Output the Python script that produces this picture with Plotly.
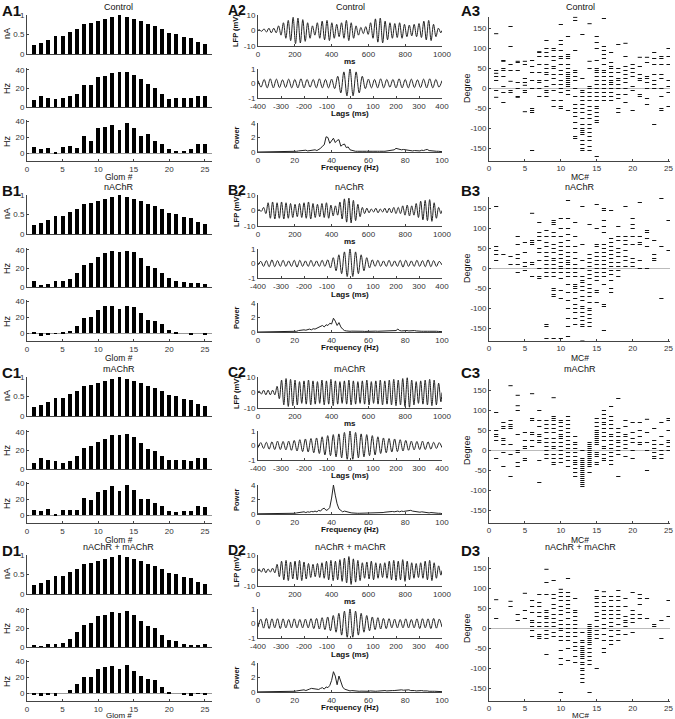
import plotly.graph_objects as go

W, H = 675, 719
FONT = "Liberation Sans, Arial, sans-serif"

# ---------------- data ----------------
conditions = ["Control", "nAChR", "mAChR", "nAChR + mAChR"]
letters = ["A", "B", "C", "D"]
glom = list(range(1, 26))

current_nA = [0.22, 0.28, 0.36, 0.45, 0.47, 0.56, 0.64, 0.76, 0.79, 0.85, 0.89, 0.94, 0.99,
              0.96, 0.91, 0.84, 0.76, 0.73, 0.64, 0.54, 0.51, 0.43, 0.40, 0.32, 0.26]

rate_control = [8, 12, 10, 9, 10, 12, 14, 24, 24, 32, 33, 37, 38, 38, 35, 30, 25, 20, 14, 9, 10, 10, 10, 12, 12]
rate_nachr = [6, 2, 3, 7, 6, 9, 15, 24, 26, 32, 37, 39, 38, 39, 38, 31, 23, 21, 15, 10, 7, 5, 4, 4, 3]
rate_machr = [7, 12, 10, 9, 7, 9, 14, 23, 25, 29, 32, 37, 37, 38, 34, 28, 22, 19, 14, 10, 10, 10, 9, 12, 12]
rate_both = [2, 1, 3, 3, 4, 9, 16, 24, 26, 33, 35, 38, 37, 39, 34, 28, 23, 21, 13, 8, 6, 3, 2, 2, 3]

sync_control = [8, 5, 6, 1, 8, 9, 6, 22, 15, 32, 33, 36, 29, 38, 32, 22, 24, 16, 12, 5, 3, 3, 5, 11, 11]
sync_nachr = [2, -4, -3, -1, 2, 3, 9, 19, 20, 29, 34, 35, 31, 35, 33, 25, 17, 16, 11, 4, 1, 0, -2, 0, -2]
sync_machr = [7, 5, 8, 1, 6, 6, 6, 22, 19, 29, 32, 37, 30, 38, 32, 20, 21, 15, 12, 5, 4, 5, 5, 11, 10]
sync_both = [-2, -4, -2, -4, 0, 4, 11, 20, 20, 31, 33, 34, 31, 36, 28, 22, 18, 17, 8, 2, 0, -3, -4, -1, -2]

# LFP: amplitude of each oscillation cycle over 0-1000 ms
lfp_control = [0.5, 1, 1.5, 1.5, 3, 5, 6.5, 8.5, 8, 7, 5, 3, 5, 6, 6.5, 5, 4, 5, 6.5, 5,
               3, 2, 2.5, 5, 7.5, 8, 6, 5, 4.5, 5, 4, 3.5, 4, 4.5, 6, 6.5, 4, 1.5]
lfp_nachr = [0.5, 2, 5, 5.5, 5, 5.5, 5, 4.5, 4, 4.5, 5, 5.5, 4.5, 4, 4.5, 5, 3.5, 3, 5.5, 7.5,
             8, 6.5, 4, 2, 1.5, 1, 1.5, 1, 1.5, 1.5, 2, 2, 3, 3.5, 3, 4.5, 6, 6.5, 7, 5, 2]
lfp_machr = [1, 1.5, 1.5, 1.5, 4, 8, 9, 8.5, 8, 7, 7.5, 8, 7.5, 7, 8, 7.5, 8.5, 7.5, 7, 7.5,
             8, 7.5, 7, 7.5, 8, 7, 7.5, 8, 7.5, 8, 8.5, 8, 9, 9.5, 8, 7, 7.5, 8, 8.5, 8, 6]
lfp_both = [1, 1.5, 1, 1.5, 4, 6, 6.5, 5.5, 6, 6.5, 5.5, 4.5, 4, 4.5, 5, 6, 6.5, 6, 7, 8,
            9, 7.5, 6.5, 5, 5.5, 6, 5, 4.5, 5, 6, 6.5, 6, 7, 6, 5, 4.5, 5, 6, 6.5, 5, 3]

# autocorrelation: envelope at each half-period lag from 0 to 400 ms
corr_control = [1.0, 0.85, 0.8, 0.65, 0.5, 0.35, 0.3, 0.3, 0.28, 0.3, 0.32, 0.3, 0.28, 0.25, 0.28, 0.3,
                0.32, 0.3, 0.28, 0.3, 0.3, 0.28, 0.25, 0.28, 0.3, 0.3, 0.32, 0.3, 0.28, 0.25, 0.2]
corr_nachr = [1.0, 0.9, 0.8, 0.7, 0.6, 0.5, 0.4, 0.3, 0.25, 0.2, 0.22, 0.2, 0.18, 0.2, 0.22, 0.2, 0.18,
              0.2, 0.22, 0.25, 0.22, 0.2, 0.18, 0.2, 0.22, 0.2, 0.2, 0.22, 0.25, 0.22, 0.2, 0.2, 0.15, 0.1]
corr_machr = [1.0, 0.95, 0.9, 0.85, 0.8, 0.78, 0.75, 0.7, 0.68, 0.65, 0.6, 0.55, 0.52, 0.5, 0.48, 0.45,
              0.45, 0.42, 0.4, 0.38, 0.35, 0.33, 0.3, 0.3, 0.28, 0.28, 0.3, 0.28, 0.25, 0.25, 0.22, 0.2, 0.2, 0.15]
corr_both = [1.0, 0.95, 0.85, 0.8, 0.7, 0.6, 0.55, 0.5, 0.45, 0.42, 0.4, 0.38, 0.35, 0.35, 0.33, 0.3,
             0.3, 0.3, 0.28, 0.3, 0.32, 0.3, 0.28, 0.3, 0.32, 0.35, 0.33, 0.3, 0.32, 0.35, 0.35, 0.32, 0.3, 0.25]

# power spectra, 0..100 Hz at 1 Hz
freq = list(range(0, 101))
power_control = ([0] * 18 + [0.02, 0.03] +
                 [0.05, 0.1, 0.15, 0.2, 0.15, 0.2, 0.25, 0.15, 0.2, 0.25] +
                 [0.2, 0.3, 0.2, 0.3, 0.5, 0.8, 1.0, 2.1, 2.0, 1.2] +
                 [1.6, 1.9, 1.3, 1.6, 1.7, 0.8, 1.0, 1.1, 0.6, 0.7] +
                 [0.3, 0.2, 0.15, 0.1, 0.1, 0.15, 0.1, 0.1, 0.15, 0.1] +
                 [0.1, 0.15, 0.1, 0.1, 0.15, 0.1, 0.1, 0.15, 0.1, 0.1] +
                 [0.15, 0.2, 0.15, 0.2, 0.3, 0.5, 0.4, 0.3, 0.3, 0.35] +
                 [0.3, 0.2, 0.25, 0.2, 0.15, 0.2, 0.15, 0.2, 0.15, 0.25] +
                 [0.2, 0.3, 0.35, 0.2, 0.15, 0.1, 0.15, 0.1, 0.1, 0.05, 0.05])
power_nachr = ([0] * 17 + [0.02, 0.05, 0.05] +
               [0.1, 0.1, 0.2, 0.25, 0.2, 0.3, 0.25, 0.3, 0.4, 0.3] +
               [0.45, 0.4, 0.5, 0.6, 0.7, 0.9, 0.7, 1.0, 0.9, 1.2] +
               [1.1, 1.9, 1.5, 0.9, 1.3, 0.7, 0.4, 0.2, 0.15, 0.1] +
               [0.1, 0.12, 0.1, 0.08, 0.1, 0.12, 0.1, 0.1, 0.08, 0.1] +
               [0.1, 0.12, 0.1, 0.1, 0.12, 0.1, 0.1, 0.12, 0.1, 0.1] +
               [0.1, 0.15, 0.1, 0.15, 0.2, 0.2, 0.4, 0.2, 0.15, 0.2] +
               [0.15, 0.2, 0.15, 0.2, 0.15, 0.2, 0.15, 0.1, 0.15, 0.1] +
               [0.1, 0.15, 0.1, 0.1, 0.12, 0.1, 0.08, 0.1, 0.08, 0.05, 0.05])
power_machr = ([0.03] * 20 +
               [0.1, 0.15, 0.2, 0.25, 0.2, 0.3, 0.2, 0.3, 0.25, 0.35] +
               [0.3, 0.4, 0.3, 0.5, 0.4, 0.7, 0.8, 0.5, 0.6, 0.9] +
               [2.2, 4.0, 2.6, 1.4, 0.7, 0.5, 0.3, 0.4, 0.3, 0.25] +
               [0.2, 0.15, 0.1, 0.15, 0.1, 0.1, 0.1, 0.1, 0.1, 0.1] +
               [0.1, 0.15, 0.1, 0.15, 0.1, 0.15, 0.2, 0.15, 0.2, 0.25] +
               [0.3, 0.25, 0.3, 0.35, 0.3, 0.35, 0.4, 0.3, 0.4, 0.35] +
               [0.4, 0.45, 0.55, 0.5, 0.4, 0.35, 0.4, 0.3, 0.25, 0.3] +
               [0.25, 0.2, 0.2, 0.15, 0.2, 0.15, 0.1, 0.1, 0.1, 0.1, 0.05])
power_both = ([0.02] * 20 +
              [0.1, 0.15, 0.2, 0.3, 0.25, 0.3, 0.2, 0.35, 0.4, 0.5] +
              [0.45, 0.5, 0.4, 0.35, 0.5, 0.6, 0.4, 0.7, 0.6, 0.9] +
              [1.6, 2.8, 2.2, 1.0, 2.2, 1.5, 0.7, 0.4, 0.3, 0.2] +
              [0.15, 0.2, 0.15, 0.1, 0.15, 0.1, 0.12, 0.1, 0.15, 0.1] +
              [0.1, 0.15, 0.1, 0.15, 0.1, 0.12, 0.15, 0.1, 0.15, 0.2] +
              [0.15, 0.2, 0.15, 0.2, 0.2, 0.25, 0.2, 0.25, 0.3, 0.25] +
              [0.3, 0.25, 0.3, 0.2, 0.25, 0.2, 0.15, 0.2, 0.15, 0.2] +
              [0.15, 0.2, 0.15, 0.1, 0.15, 0.1, 0.1, 0.1, 0.08, 0.05, 0.05])

# spike phases (degrees) per mitral cell 1..25
phase_control = [
    [137, 45, 38, 30, 20, -5, -22], [70, 68, 50, 45, 30, 5, -10, -35], [155, 105, 60, 45, 18, -5, -10],
    [68, 65, 45, 15, 0, -20, -22], [68, 60, 25, 15, 8, -5, -10, -58], [70, 55, 40, 20, 0, -50, -55, -60, -155],
    [92, 90, 80, 60, 40, 20, 15, 0, -20], [120, 100, 90, 80, 60, 50, 40, 35, 20, 5, -5, -10, -20],
    [100, 95, 80, 70, 55, 50, 35, 25, 10, -5, -30, -45],
    [160, 120, 110, 95, 80, 75, 60, 45, 35, 20, 10, 0, -10, -30, -45, -50],
    [130, 85, 80, 75, 60, 50, 40, 35, 30, 25, 20, 15, 10, 5, -5, -15, -55],
    [178, 170, 95, 45, 40, 30, 20, 0, -20, -40, -50, -60, -70, -85, -100, -120, -125],
    [135, 25, -5, -10, -20, -30, -40, -50, -60, -75, -90, -100, -105, -110, -115, -130, -140, -150, -155],
    [162, 68, 50, 5, 0, -10, -20, -30, -45, -55, -65, -75, -90, -100, -110, -120, -130, -145, -155],
    [130, 115, 100, 70, 50, 45, 40, 30, 20, 10, 0, -10, -20, -30, -45, -50, -60, -70, -80, -85, -170],
    [175, 105, 95, 85, 75, 60, 45, 40, 30, 20, 10, 0, -10, -20, -30],
    [90, 65, 55, 50, 40, 30, 20, 15, 10, 0, -10, -20, -30], [110, 50, 40, 25, 20, 10, 0, -15, -25, -50, -60],
    [113, 80, 55, 45, 35, 25, 15, 0, -15, -35], [60, 50, 40, 30, 5, -5, -55], [78, 55, 35, 25, 20, -15, -20],
    [78, 65, 30, 25, 15, 0, -25, -40], [90, 75, 60, 35, 20, 10, 0, -90], [80, 75, 60, 35, 25, 0, -20, -50, -55],
    [100, 80, 60, 20, 5, -10, -45]]
phase_nachr = [
    [155, 55, 45, 35, 20], [35], [30, 10], [80, 60, 35, 25, 10, -10], [65, 40, 15, 5, -5],
    [138, 70, 65, 60, 15, 10, -20], [115, 90, 80, 70, 50, 40, 20, 0, -20, -25],
    [95, 80, 65, 55, 40, 30, 20, 10, 0, -10, -20, -140, -145, -175],
    [120, 115, 110, 90, 80, 60, 50, 40, 25, 20, 10, 0, -10, -20, -50, -55, -65, -70, -175],
    [125, 100, 80, 65, 55, 45, 35, 25, 15, 5, 0, -10, -25, -55, -75, -175],
    [170, 125, 100, 85, 70, 55, 40, 30, 20, 15, 10, 0, -10, -20, -40, -60, -80, -100, -125, -145, -170],
    [115, 80, 55, 40, 25, 10, 0, -10, -20, -40, -45, -50, -60, -75, -90, -100, -110, -125, -140],
    [155, 60, 20, 0, -20, -30, -35, -45, -55, -70, -80, -95, -100, -110, -120, -130, -140, -145, -180],
    [110, 35, 25, 15, 5, -5, -15, -25, -40, -50, -60, -70, -85, -100, -105, -115, -125, -135, -145],
    [160, 100, 60, 55, 40, 30, 20, 10, 0, -10, -20, -30, -55, -60, -85],
    [150, 145, 120, 105, 90, 60, 50, 40, 30, 20, 10, 0, -10, -20, -40, -90, -95, -155],
    [145, 75, 65, 55, 45, 35, 25, 15, 5, -5, -15, -30, -50, -60],
    [105, 80, 70, 50, 40, 30, 15, 5, -5, -20], [155, 80, 70, 60, 45, 30, 20, 5],
    [125, 110, 100, 80, 60, 25, 15, 5], [165, 80, 65, 60, 20, 0], [95, 90, 75, 55, 0],
    [70, 35, 25, 20], [175, 55, -75], [120, 45]]
phase_machr = [
    [95, 50, 40, 35, 25, -20], [70, 60, 55, 30, 25, 15, -5, -40], [162, 75, 65, 60, 55, 15, -10, -65],
    [138, 112, 100, 40, 0, -5, -30, -40], [45, 25, 10, 5, -20, -25], [142, 80, 75, 45, 40, 25, 10],
    [100, 75, 60, 40, 35, 25, 20, -25, -80], [75, 65, 55, 45, 30, 20, 10, 0, -10, -20],
    [132, 85, 80, 75, 65, 55, 45, 30, 20, 10, 5, -10, -20, -30, -35],
    [75, 70, 60, 50, 40, 35, 30, 20, 10, 0, -10, -20, -30],
    [85, 75, 65, 55, 45, 35, 25, 15, 5, -5, -15, -25, -40],
    [35, 20, 15, 5, -5, -15, -25, -30, -35, -45, -55, -65],
    [0, -20, -25, -30, -35, -40, -45, -50, -55, -60, -65, -70, -75, -80, -85, -90],
    [20, 15, 10, 5, 0, -5, -10, -15, -20, -25, -30, -35, -40, -55],
    [80, 70, 60, 50, 45, 40, 35, 30, 25, 20, 15, -5, -10, -15, -30, -35],
    [100, 90, 80, 70, 65, 55, 45, 35, 25, 10, 5, -10, -20, -25],
    [110, 85, 75, 65, 55, 40, 35, 25, 15, 5, -5, -15, -25, -35],
    [130, 55, 45, 35, 25, 20, 10, 0, -10, -65], [75, 60, 40, 35, 25, 15, 5, -15],
    [70, 45, 30, 20, 0, -20], [70, 50, 35, 20, 15], [78, 45, 20, 0, -50],
    [55, 25, 15, 5, -5, -15, -20], [70, 35, 15, 0, -10, -20], [80, 75, 50, 25, 20, 10, 0]]
phase_both = [
    [72, 25], [], [68, 55], [35, 20], [88, 45, 25], [70, 55, 40, 20, 15, 5, -5, -20],
    [85, 65, 55, 40, 30, 15, 5, -15, -20, -25], [148, 115, 85, 45, 40, 30, 25, 15, 5, -5, -15, -25, -65],
    [120, 85, 75, 60, 50, 35, 25, 15, 5, -10, -20],
    [98, 90, 80, 70, 55, 45, 35, 20, 10, 0, -5, -20, -30, -55, -75, -90, -160],
    [125, 90, 80, 70, 60, 50, 40, 25, 10, 0, -10, -20, -30, -50, -80],
    [75, 45, 40, 30, 20, 10, 0, -10, -20, -35, -45, -55, -70, -85],
    [-10, -30, -35, -45, -50, -55, -60, -65, -70, -75, -85, -90, -100, -105, -115, -125, -135],
    [10, 5, 0, -5, -10, -15, -20, -25, -30, -35, -40, -50, -60, -70, -80, -90, -160],
    [95, 80, 75, 65, 55, 40, 30, 20, 5, -5, -15, -25, -100],
    [92, 80, 65, 55, 45, 35, 25, 10, 0, -15, -30, -50, -60],
    [80, 70, 55, 45, 35, 25, 15, 5, -5, -20, -30, -40],
    [95, 80, 70, 55, 45, 35, 25, 10, -5, -15, -30], [75, 55, 30, 20, 15, 5, -15],
    [90, 45, 35, 25, 15, -10], [85, 75, 60, 35, 25], [75, 25], [10, 5], [20, -25], [70, 30]]

rates = [rate_control, rate_nachr, rate_machr, rate_both]
syncs = [sync_control, sync_nachr, sync_machr, sync_both]
lfps = [lfp_control, lfp_nachr, lfp_machr, lfp_both]
corrs = [corr_control, corr_nachr, corr_machr, corr_both]
powers = [power_control, power_nachr, power_machr, power_both]
phases = [phase_control, phase_nachr, phase_machr, phase_both]

row_off = [0, 180, 362, 540]


# ---------------- helpers ----------------
def dx(a, b):
    return [a / W, b / W]


def dy(top, bot):
    return [1 - bot / H, 1 - top / H]


def lfp_xy(amps, t_end=1000.0):
    T = t_end / len(amps)
    xs, ys = [0.0], [0.0]
    for i, a in enumerate(amps):
        xs += [i * T + T / 4, i * T + 3 * T / 4]
        ys += [a, -a]
    xs.append(t_end)
    ys.append(0.0)
    return xs, ys


def corr_xy(amps, lag_end=400.0):
    K = len(amps) - 1
    half = lag_end / K
    xs, ys = [], []
    for k in range(-K, K + 1):
        xs.append(k * half)
        ys.append(amps[abs(k)] * (1 if k % 2 == 0 else -1))
    return xs, ys


def ticks(vals):
    return dict(tickvals=vals, ticktext=[("%g" % v) for v in vals])


AX = dict(showline=True, linecolor="#444", linewidth=1, ticks="inside", ticklen=2,
          tickcolor="#444", showgrid=False, zeroline=False, automargin=False,
          tickfont=dict(size=8, color="#333", family=FONT), fixedrange=True)

fig = go.Figure()
layout = {}
annotations = []


def ann(text, x, y, size=9, bold=False, angle=0, xanchor="center", yanchor="middle"):
    annotations.append(dict(text=("<b>%s</b>" % text) if bold else text, x=x / W, y=1 - y / H,
                            xref="paper", yref="paper", showarrow=False, textangle=angle,
                            xanchor=xanchor, yanchor=yanchor,
                            font=dict(size=size, family=FONT, color="#111")))


n = 0
for r in range(4):
    o = row_off[r]
    panels = []
    # column 1: bars
    panels.append((current_nA, dy(15 + o, 54 + o), [0, 1], [0, 0.5, 1], False))
    panels.append((rates[r], dy(68 + o, 107 + o), [0, 42], [0, 20, 40], False))
    panels.append((syncs[r], dy(120 + o, 161 + o), [-10, 42], [0, 20, 40], True))
    for vals, yd, yr, ytv, xlab in panels:
        n += 1
        fig.add_trace(go.Bar(x=glom, y=vals, width=0.55, marker=dict(color="black", line=dict(width=0)),
                             xaxis="x%d" % n, yaxis="y%d" % n, showlegend=False))
        xa = dict(AX, domain=dx(27, 212), range=[0, 26], anchor="y%d" % n, **ticks([0, 5, 10, 15, 20, 25]))
        if not xlab:
            xa.update(showticklabels=False, ticks="")
        ya = dict(AX, domain=yd, range=yr, anchor="x%d" % n, **ticks(ytv))
        if yr[0] < 0:
            ya.update(zeroline=True, zerolinecolor="#999", zerolinewidth=1)
        layout["xaxis%d" % n] = xa
        layout["yaxis%d" % n] = ya
    # column 2: LFP, correlation, power
    lx, ly = lfp_xy(lfps[r])
    cx, cy = corr_xy(corrs[r])
    col2 = [
        (lx, ly, dy(15 + o, 46 + o), [0, 1000], [-10, 10], list(range(0, 1001, 200)), [-10, 0, 10], "spline"),
        (cx, cy, dy(69 + o, 98 + o), [-400, 400], [-1, 1], list(range(-400, 401, 100)), [-1, 0, 1], "spline"),
        (freq, powers[r], dy(123 + o, 152 + o), [0, 100], [0, 4], list(range(0, 101, 20)), [0, 2, 4], "linear"),
    ]
    for xs, ys, yd, xr, yr, xtv, ytv, shape in col2:
        n += 1
        fig.add_trace(go.Scatter(x=xs, y=ys, mode="lines",
                                 line=dict(color="#222", width=1, shape=shape),
                                 xaxis="x%d" % n, yaxis="y%d" % n, showlegend=False))
        layout["xaxis%d" % n] = dict(AX, domain=dx(258, 442), range=xr, anchor="y%d" % n, **ticks(xtv))
        layout["yaxis%d" % n] = dict(AX, domain=yd, range=yr, anchor="x%d" % n, **ticks(ytv))
    # column 3: phase raster
    n += 1
    px_, py_ = [], []
    for mc, degs in zip(glom, phases[r]):
        for d in degs:
            px_.append(mc)
            py_.append(d)
    fig.add_trace(go.Scatter(x=px_, y=py_, mode="markers",
                             marker=dict(symbol="line-ew", size=3, line=dict(width=1, color="#111")),
                             xaxis="x%d" % n, yaxis="y%d" % n, showlegend=False))
    layout["xaxis%d" % n] = dict(AX, domain=dx(489, 670), range=[0, 25.2], anchor="y%d" % n,
                                 **ticks([0, 5, 10, 15, 20, 25]))
    layout["yaxis%d" % n] = dict(AX, domain=dy(16.5 + o, 160.5 + o), range=[-180, 180], anchor="x%d" % n,
                                 zeroline=True, zerolinecolor="#bbb", zerolinewidth=1,
                                 **ticks([-150, -100, -50, 0, 50, 100, 150]))

    # text
    L = letters[r]
    last = (r == 3)
    bot = 715 if last else 177.5 + o
    bsize = 8 if last else 8.5
    ann(L + "1", 0, 0 + o, size=15, bold=True, xanchor="left", yanchor="top")
    ann(L + "2", 226, 0 + o, size=14, bold=True, xanchor="left", yanchor="top")
    ann(L + "3", 459, 0 + o, size=15, bold=True, xanchor="left", yanchor="top")
    for cxp in (119, 350, 580):
        ann(conditions[r], cxp, 7 + o, size=9)
    ann("nA", 7, 34 + o, angle=-90)
    ann("Hz", 7, 88 + o, angle=-90)
    ann("Hz", 7, 141 + o, angle=-90)
    ann("Glom #", 119, bot, size=bsize)
    ann("LFP (mV)", 236, 31 + o, size=7.5, bold=True, angle=-90)
    ann("ms", 350, 61 + o, size=8, bold=True)
    ann("Lags (ms)", 350, 114 + o, size=8, bold=True)
    ann("Power", 236, 138 + o, size=7.5, bold=True, angle=-90)
    ann("Frequency (Hz)", 350, 167 + o, size=8, bold=True)
    ann("Degree", 467, 88 + o, angle=-90)
    ann("MC#", 580, bot, size=bsize)

fig.update_layout(template="none", width=W, height=H, margin=dict(l=0, r=0, t=0, b=0, pad=0),
                  paper_bgcolor="white", plot_bgcolor="white",
                  font=dict(family=FONT, size=9, color="#111"),
                  annotations=annotations, bargap=0, **layout)
fig.write_html("out.html", config={"displayModeBar": False},
               post_script="document.body.style.margin='0px';")
